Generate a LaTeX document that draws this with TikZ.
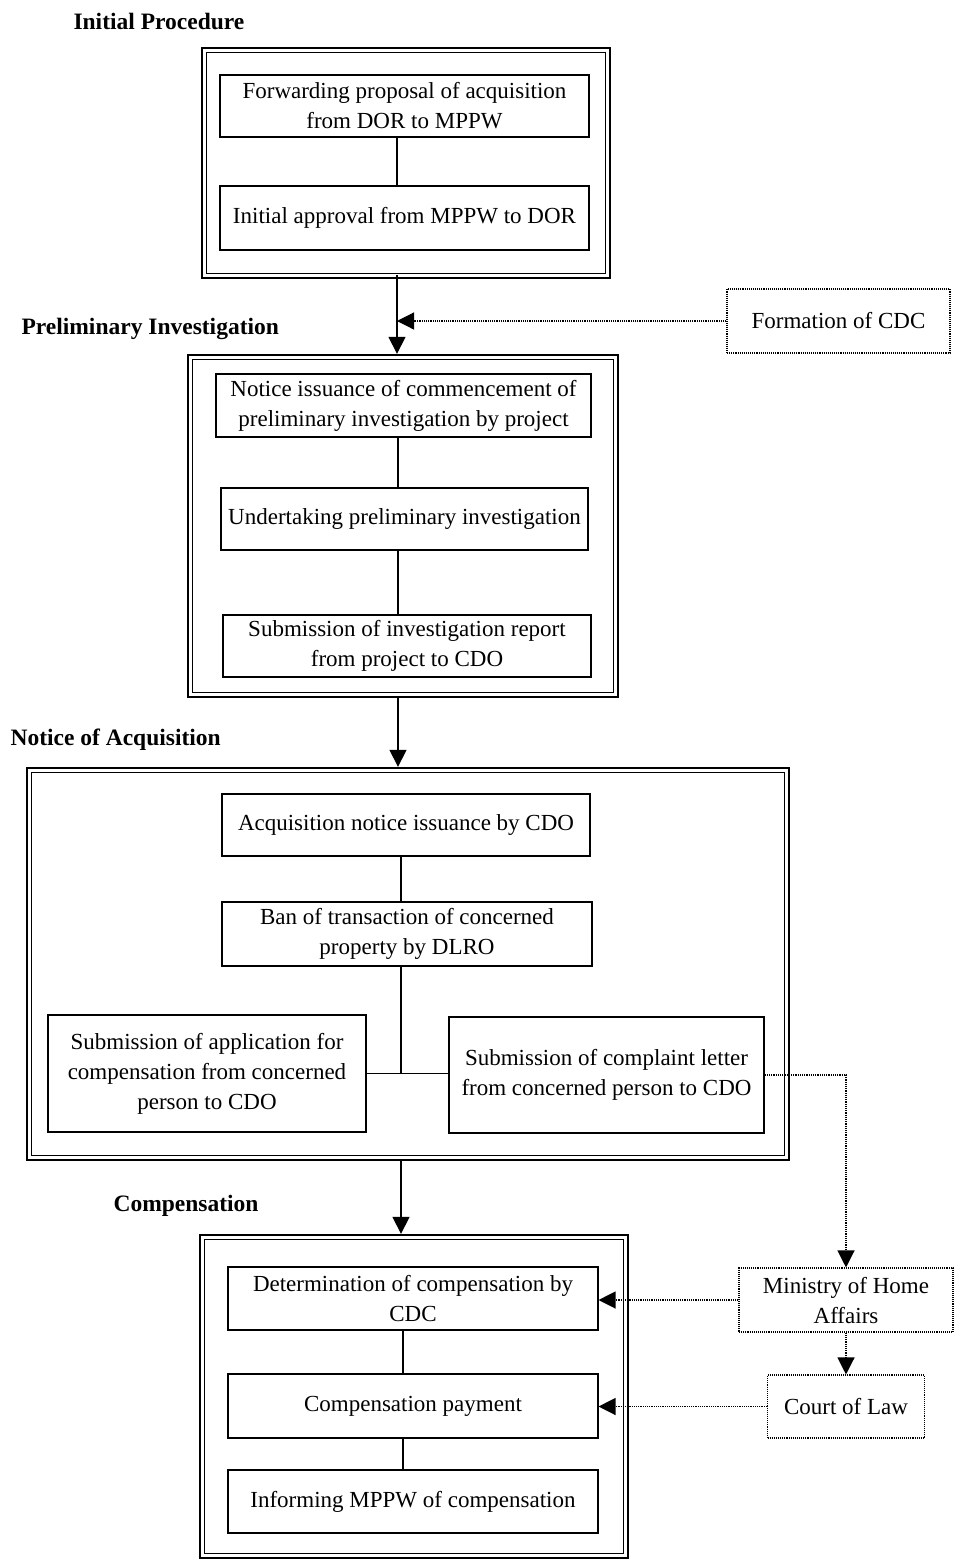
\documentclass[tikz,border=0pt]{standalone}
\usepackage{fontspec}
\setmainfont{Liberation Serif}
\usetikzlibrary{arrows.meta}
\tikzset{
  stepbox/.style={draw, line width=1.1pt, align=center, inner sep=2pt,
    font=\fontsize{23}{30}\selectfont},
  sidebox/.style={stepbox, densely dotted, line width=1.1pt},
  frame/.style={draw, line width=2.4pt, inner sep=0pt},
  head/.style={anchor=west, font=\fontsize{23.5}{26}\selectfont\bfseries},
  flow/.style={line width=1.6pt, -{Triangle[length=17pt,width=17pt]}},
  link/.style={line width=1.1pt},
  dotlink/.style={densely dotted, line width=1.2pt, -{Triangle[length=17pt,width=17pt]}}
}
\newcommand{\innerframe}[1]{%
  \draw[line width=1pt] ([shift={(5.5,5.5)}]#1.north west) rectangle ([shift={(-5.5,-5.5)}]#1.south east);}
\begin{document}
\begin{tikzpicture}[x=1pt, y=-1pt]
  \useasboundingbox (0,0) rectangle (954,1561);
  % headings
  \node[head] (hproc) at (70,21) {Initial Procedure};
  \node[head] (hprel) at (18,329) {Preliminary Investigation};
  \node[head] (hnot) at (7,740) {Notice of Acquisition};
  \node[head] (hcomp) at (110,1206) {Compensation};
  % stage frames
  \node[frame, minimum width=408, minimum height=230] (proc) at (406,163) {};
  \node[frame, minimum width=430, minimum height=342] (prel) at (403,526) {};
  \node[frame, minimum width=762, minimum height=392] (noti) at (408,964) {};
  \node[frame, minimum width=428, minimum height=323] (comp) at (414,1396.5) {};
  \innerframe{proc}
  \innerframe{prel}
  \innerframe{noti}
  \innerframe{comp}
  % initial procedure
  \node[stepbox, minimum width=369, minimum height=62] (fwd) at (404.5,106) {Forwarding proposal of acquisition\\from DOR to MPPW};
  \node[stepbox, minimum width=369, minimum height=64] (appr) at (404.5,218) {Initial approval from MPPW to DOR};
  % preliminary investigation
  \node[stepbox, minimum width=375, minimum height=63] (notice) at (403.5,405.5) {Notice issuance of commencement of\\preliminary investigation by project};
  \node[stepbox, minimum width=367, minimum height=62] (under) at (404.5,519) {Undertaking preliminary investigation};
  \node[stepbox, minimum width=368, minimum height=62] (report) at (407,646) {Submission of investigation report\\from project to CDO};
  % notice of acquisition
  \node[stepbox, minimum width=368, minimum height=62] (acq) at (406,825) {Acquisition notice issuance by CDO};
  \node[stepbox, minimum width=370, minimum height=64] (ban) at (407,934) {Ban of transaction of concerned\\property by DLRO};
  \node[stepbox, minimum width=318, minimum height=117] (appl) at (207,1073.5) {Submission of application for\\compensation from concerned\\person to CDO};
  \node[stepbox, minimum width=315, minimum height=116] (compl) at (606.5,1075) {Submission of complaint letter\\from concerned person to CDO};
  % compensation
  \node[stepbox, minimum width=370, minimum height=63] (det) at (413,1298.5) {Determination of compensation by\\CDC};
  \node[stepbox, minimum width=370, minimum height=64] (pay) at (413,1406) {Compensation payment};
  \node[stepbox, minimum width=370, minimum height=63] (inform) at (413,1501.5) {Informing MPPW of compensation};
  % outside bodies
  \node[sidebox, minimum width=223, minimum height=64] (cdc) at (838.5,321) {Formation of CDC};
  \node[sidebox, minimum width=214, minimum height=64] (home) at (846,1300) {Ministry of Home\\Affairs};
  \node[sidebox, minimum width=157, minimum height=63] (court) at (846,1406.5) {Court of Law};
  % spines
  \coordinate (s1) at (397,0);
  \coordinate (s2) at (398,0);
  \coordinate (s3) at (401,0);
  \coordinate (s4) at (403,0);
  \coordinate (jn) at (401,1074);
  % links inside frames
  \draw[link] (fwd.south -| s1) -- (appr.north -| s1);
  \draw[link] (notice.south -| s2) -- (under.north -| s2);
  \draw[link] (under.south -| s2) -- (report.north -| s2);
  \draw[link] (acq.south -| s3) -- (ban.north -| s3);
  \draw[link] (ban.south -| s3) -- (jn);
  \draw[link] (appl.east) -- (compl.west |- appl.east);
  \draw[link] (det.south -| s4) -- (pay.north -| s4);
  \draw[link] (pay.south -| s4) -- (inform.north -| s4);
  % flow between stages
  \draw[flow] ([yshift=4]proc.south -| s1) -- (prel.north -| s1);
  \draw[flow] (prel.south -| s2) -- (noti.north -| s2);
  \draw[flow] (noti.south -| s3) -- (comp.north -| s3);
  % dotted side links
  \draw[dotlink] (cdc.west) -- (cdc.west -| s1);
  \draw[dotlink] (compl.east) -| (home.north);
  \draw[dotlink] (home.south) -- (court.north);
  \draw[dotlink] (home.west) -- (home.west -| det.east);
  \draw[dotlink] (court.west) -- (court.west -| pay.east);
\end{tikzpicture}
\end{document}
